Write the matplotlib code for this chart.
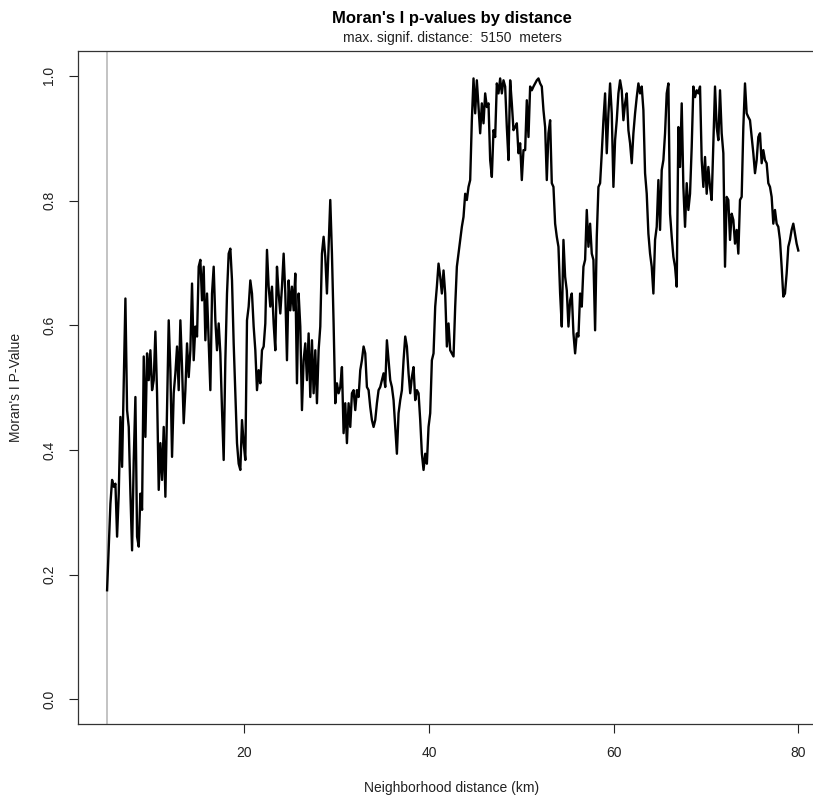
import numpy as np
import matplotlib.pyplot as plt

pvalues = [
    0.175, 0.245, 0.314, 0.352, 0.341, 0.346, 0.261, 0.330, 0.453, 0.373,
    0.512, 0.643, 0.464, 0.437, 0.330, 0.239, 0.384, 0.485, 0.261, 0.245,
    0.330, 0.304, 0.550, 0.421, 0.555, 0.512, 0.560, 0.496, 0.512, 0.590,
    0.491, 0.336, 0.411, 0.352, 0.437, 0.325, 0.464, 0.608, 0.528, 0.389,
    0.491, 0.523, 0.566, 0.496, 0.608, 0.533, 0.443, 0.496, 0.571, 0.517,
    0.560, 0.667, 0.544, 0.598, 0.582, 0.694, 0.705, 0.640, 0.694, 0.576,
    0.651, 0.571, 0.496, 0.651, 0.694, 0.608, 0.560, 0.603, 0.555, 0.464,
    0.384, 0.544, 0.651, 0.715, 0.723, 0.672, 0.571, 0.491, 0.411, 0.378,
    0.368, 0.448, 0.411, 0.384, 0.608, 0.630, 0.672, 0.651, 0.598, 0.560,
    0.496, 0.528, 0.507, 0.560, 0.566, 0.603, 0.721, 0.662, 0.630, 0.662,
    0.603, 0.560, 0.694, 0.651, 0.619, 0.662, 0.715, 0.651, 0.544, 0.672,
    0.624, 0.662, 0.624, 0.683, 0.507, 0.651, 0.598, 0.464, 0.544, 0.571,
    0.512, 0.587, 0.485, 0.576, 0.491, 0.560, 0.475, 0.560, 0.598, 0.715,
    0.742, 0.710, 0.651, 0.726, 0.801, 0.715, 0.603, 0.475, 0.507, 0.491,
    0.501, 0.533, 0.427, 0.475, 0.411, 0.475, 0.437, 0.491, 0.496, 0.464,
    0.496, 0.485, 0.528, 0.544, 0.566, 0.555, 0.501, 0.496, 0.469, 0.448,
    0.437, 0.448, 0.475, 0.496, 0.501, 0.512, 0.523, 0.501, 0.576, 0.544,
    0.512, 0.501, 0.480, 0.437, 0.394, 0.459, 0.480, 0.496, 0.544, 0.582,
    0.566, 0.523, 0.491, 0.517, 0.533, 0.480, 0.496, 0.491, 0.448, 0.394,
    0.368, 0.394, 0.378, 0.437, 0.459, 0.544, 0.555, 0.630, 0.662, 0.699,
    0.678, 0.651, 0.688, 0.651, 0.566, 0.603, 0.560, 0.555, 0.550, 0.630,
    # ~43 km onwards
    0.694, 0.715, 0.737, 0.758, 0.774, 0.811, 0.801, 0.822, 0.833, 0.929,
    0.996, 0.940, 0.993, 0.950, 0.908, 0.956, 0.924, 0.972, 0.950, 0.956,
    0.865, 0.838, 0.913, 0.902, 0.988, 0.972, 0.996, 0.972, 0.993, 0.983,
    0.918, 0.865, 0.993, 0.956, 0.913, 0.918, 0.924, 0.876, 0.892, 0.833,
    0.881, 0.881, 0.961, 0.902, 0.983, 0.977, 0.983, 0.988, 0.993, 0.996,
    0.988, 0.983, 0.945, 0.918, 0.833, 0.908, 0.929, 0.828, 0.822, 0.763,
    0.742, 0.726, 0.651, 0.598, 0.737, 0.678, 0.656, 0.598, 0.640, 0.651,
    0.587, 0.555, 0.587, 0.582, 0.651, 0.630, 0.694, 0.705, 0.785, 0.726,
    0.763, 0.715, 0.705, 0.592, 0.742, 0.822, 0.828, 0.876, 0.929, 0.972,
    0.876, 0.940, 0.988, 0.940, 0.822, 0.897, 0.929, 0.972, 0.993, 0.977,
    0.929, 0.956, 0.972, 0.913, 0.892, 0.860, 0.908, 0.940, 0.966, 0.988,
    0.972, 0.983, 0.945, 0.844, 0.811, 0.747, 0.715, 0.694, 0.651, 0.737,
    0.758, 0.833, 0.753, 0.849, 0.865, 0.908, 0.972, 0.988, 0.779, 0.742,
    0.710, 0.694, 0.662, 0.918, 0.854, 0.956, 0.822, 0.758, 0.828, 0.785,
    0.811, 0.886, 0.983, 0.966, 0.977, 0.972, 0.983, 0.865, 0.822, 0.870,
    0.811, 0.854, 0.822, 0.801, 0.892, 0.983, 0.918, 0.897, 0.977, 0.908,
    0.876, 0.694, 0.806, 0.801, 0.737, 0.779, 0.769, 0.731, 0.753, 0.715,
    0.801, 0.806, 0.918, 0.988, 0.940, 0.934, 0.929, 0.902, 0.876, 0.844,
    0.865, 0.902, 0.908, 0.860, 0.881, 0.865, 0.860, 0.828, 0.822, 0.806,
    0.763, 0.785, 0.763, 0.758, 0.737, 0.694, 0.646, 0.651, 0.683, 0.726,
    0.737, 0.753, 0.763, 0.747, 0.731, 0.720,
]
first_km, last_km = 5.15, 80.0
max_signif_m = 5150
x_ticks = [20, 40, 60, 80]
y_ticks = [0.0, 0.2, 0.4, 0.6, 0.8, 1.0]

dist_km = np.linspace(first_km, last_km, len(pvalues))

plt.rcParams['font.family'] = ['Liberation Sans', 'DejaVu Sans']
fig = plt.figure(figsize=(8.13, 8.0), dpi=100)
# plot region runs off the right edge, as in the original
ax = fig.add_axes([78 / 813, 75.7 / 800, 748 / 813, 673.3 / 800])

ax.axvline(max_signif_m / 1000, color='#bebebe', linewidth=1.3)
ax.plot(dist_km, pvalues, color='black', linewidth=1.7)

ax.set_xlim(2.0, 83.0)
ax.set_ylim(-0.04, 1.04)
ax.set_xticks(x_ticks)
ax.set_yticks(y_ticks)
ax.set_yticklabels([f"{v:.1f}" for v in y_ticks], rotation=90, va='center')
ax.tick_params(direction='out', length=6.5, width=0.8, colors='#222222',
               labelsize=10, pad=9)
for side in ax.spines.values():
    side.set_color('#333333')
    side.set_linewidth(0.9)
ax.spines['right'].set_visible(False)

ax.set_xlabel("Neighborhood distance (km)", fontsize=10, color='#222222',
              labelpad=15)
ax.set_ylabel("Moran's I P-Value", fontsize=10, color='#222222', labelpad=14)

fig.text(452 / 813, 1 - 18 / 800, "Moran's I p-values by distance",
         ha='center', va='center', fontsize=12, fontweight='bold')
fig.text(452 / 813, 1 - 38 / 800, f"max. signif. distance:  {max_signif_m}  meters",
         ha='center', va='center', fontsize=10, color='#222222')

fig.savefig('out.png', dpi=100)
